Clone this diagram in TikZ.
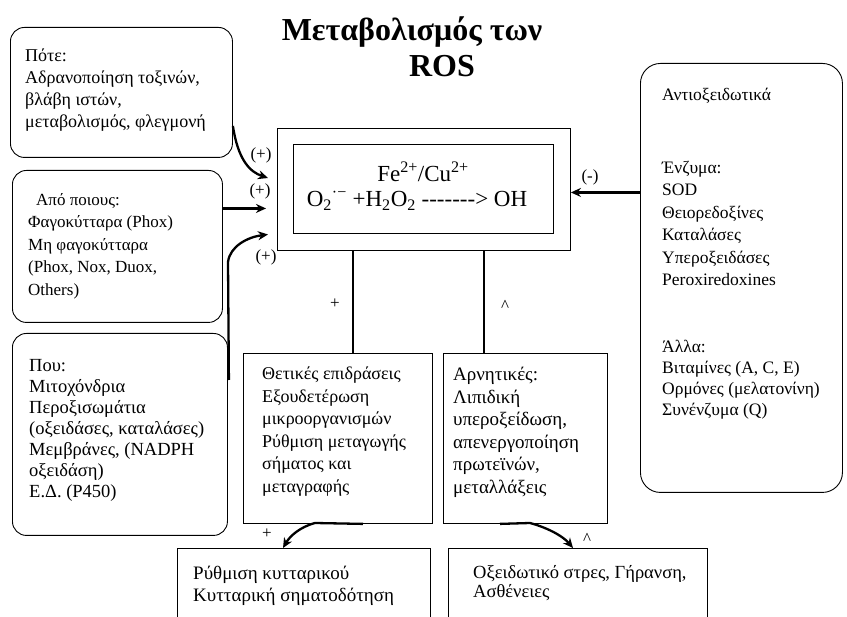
\documentclass[tikz,border=0pt]{standalone}
\usepackage{fontspec}
\setmainfont{Liberation Serif}
\usetikzlibrary{arrows.meta}
\newcommand{\fsz}[2]{\fontsize{#1}{#2}\selectfont}
\begin{document}
\begin{tikzpicture}[x=1pt,y=-1pt,
  rbox/.style={draw, line width=0.9pt, rounded corners=14pt, anchor=north west, inner sep=0pt},
  sbox/.style={draw, line width=0.9pt, anchor=north west, inner sep=0pt},
  txt/.style={align=left, anchor=north west, inner sep=0pt},
  conn/.style={line width=2.6pt},
  arr/.style={line width=2.3pt, -{Stealth[length=10pt,width=9pt]}},
  lbl/.style={font=\fsz{17}{19}, inner sep=0pt}]
\clip (0,0) rectangle (847,617);
\fill[white] (0,0) rectangle (847,617);

% title
\node[font=\fsz{32}{36}\bfseries, inner sep=0pt] (title1) at (412,32) {Μεταβολισμός των};
\node[font=\fsz{32}{36}\bfseries, inner sep=0pt] (title2) at (442,66) {ROS};

% left boxes
\node[rbox, minimum width=222pt, minimum height=130pt] (A) at (10,27) {};
\node[txt, font=\fsz{18}{22}] (At) at (25,49) {Πότε:\\Αδρανοποίηση τοξινών,\\βλάβη ιστών,\\μεταβολισμός, φλεγμονή};

\node[rbox, minimum width=210pt, minimum height=152pt] (B) at (12,170) {};
\node[txt, font=\fsz{17}{22.5}] (Bt) at (28,193) {\hspace*{8pt}Από ποιους:\\Φαγοκύτταρα (Phox)\\Μη φαγοκύτταρα\\(Phox, Nox, Duox,\\Others)};

\node[rbox, minimum width=215pt, minimum height=202pt] (C) at (12,333) {};
\node[txt, font=\fsz{18.5}{21}] (Ct) at (29,359) {Που:\\Μιτοχόνδρια\\Περοξισωμάτια\\(οξειδάσες, καταλάσες)\\Μεμβράνες, (NADPH\\οξειδάση)\\Ε.Δ. (P450)};

% central box
\node[sbox, minimum width=293pt, minimum height=122pt] (outer) at (277,128) {};
\node[sbox, minimum width=260pt, minimum height=89pt] (inner) at (293,144) {};
\node[font=\fsz{23}{26}, inner sep=0pt] (fe) at (423,172) {Fe\textsuperscript{2+}/Cu\textsuperscript{2+}};
\node[font=\fsz{23}{26}, inner sep=0pt] (react) at (417,201) {O\textsubscript{2}\textsuperscript{·−} +H\textsubscript{2}O\textsubscript{2} -{}-{}-{}-{}-{}-{}->{} OH};

% right box
\node[rbox, minimum width=202pt, minimum height=429pt, rounded corners=20pt] (R) at (640,63) {};
\node[txt, font=\fsz{17.5}{22}] (Rt1) at (662,88) {Αντιοξειδωτικά};
\node[txt, font=\fsz{17.5}{22.4}] (Rt2) at (662,161) {Ένζυμα:\\SOD\\Θειορεδοξίνες\\Καταλάσες\\Υπεροξειδάσες\\Peroxiredoxines};
\node[txt, font=\fsz{17.5}{21}] (Rt3) at (662,340) {Άλλα:\\Βιταμίνες (A, C, E)\\Ορμόνες (μελατονίνη)\\Συνένζυμα (Q)};

% effect boxes
\node[sbox, minimum width=189pt, minimum height=170pt] (D) at (243,353) {};
\node[txt, font=\fsz{18}{22.5}] (Dt) at (262,367) {Θετικές επιδράσεις\\Εξουδετέρωση\\μικροοργανισμών\\Ρύθμιση μεταγωγής\\σήματος και\\μεταγραφής};

\node[sbox, minimum width=164pt, minimum height=170pt] (E) at (443,353) {};
\node[txt, font=\fsz{19}{22.5}] (Et) at (453,367) {Αρνητικές:\\Λιπιδική\\υπεροξείδωση,\\απενεργοποίηση\\πρωτεϊνών,\\μεταλλάξεις};

\node[sbox, minimum width=253pt, minimum height=100pt] (F) at (177,548) {};
\node[txt, font=\fsz{19}{22}] (Ft) at (193,566) {Ρύθμιση κυτταρικού\\Κυτταρική σηματοδότηση};

\node[sbox, minimum width=259pt, minimum height=100pt] (G) at (448,548) {};
\node[txt, font=\fsz{18.5}{19}] (Gt) at (473,565) {Οξειδωτικό στρες, Γήρανση,\\Ασθένειες};

% connectors
\draw[arr] ([yshift=32pt]A.south east) .. controls (238,160) and (250,172) .. ([xshift=-9pt,yshift=-50pt]outer.north west);
\draw[arr] ([yshift=38pt]B.east) -- ([xshift=-11pt,yshift=-19pt]outer.west);
\draw[arr] ([xshift=1pt,yshift=-47pt]C.north east) -- (228,262) .. controls (230,246) and (248,237) .. ([xshift=-9pt,yshift=-45pt]outer.west);
\draw[arr] ([yshift=85.5pt]R.west) -- ([yshift=-3pt]outer.east);

\draw[conn] ([xshift=76pt]outer.south west) -- ([xshift=110pt]D.north west);
\draw[conn] ([xshift=207pt]outer.south west) -- ([xshift=41pt]E.north west);

\draw[arr] ([xshift=120pt]D.south west) -- (315,523) .. controls (300,527) and (290,536) .. ([xshift=106pt]F.north west);
\draw[arr] ([xshift=57pt]E.south west) -- (530,523) .. controls (545,527) and (562,535) .. ([xshift=125pt]G.north west);

% labels
\node[lbl] (l1) at (261,155) {(+)};
\node[lbl] (l2) at (260,191) {(+)};
\node[lbl] (l3) at (266,257) {(+)};
\node[lbl] (l4) at (590,177) {(-)};
\node[lbl] (l5) at (335,304) {+};
\node[lbl] (l6) at (505,306) {\textasciicircum};
\node[lbl] (l7) at (267,534) {+};
\node[lbl] (l8) at (587,539) {\textasciicircum};
\end{tikzpicture}
\end{document}
